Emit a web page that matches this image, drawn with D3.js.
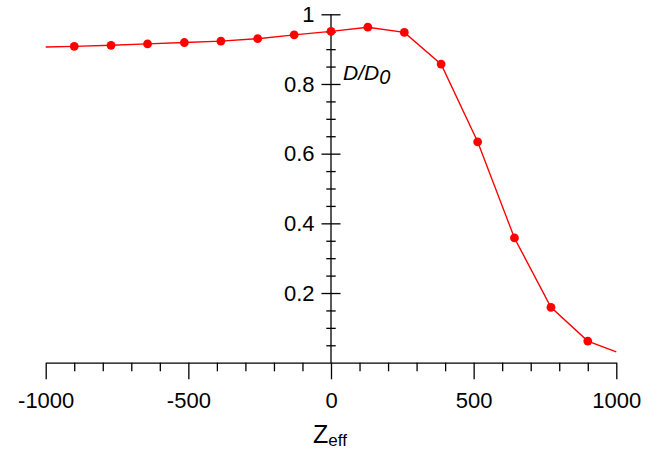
<!DOCTYPE html>
<html>
<head>
<meta charset="utf-8">
<script src="https://cdn.jsdelivr.net/npm/d3@7"></script>
<style>
  body { margin: 0; background: #fff; }
  svg { display: block; font-family: "Liberation Sans", Arial, sans-serif; }
</style>
</head>
<body>
<svg id="chart" width="669" height="452"></svg>
<script>
// sampled points (markers)
var zeff = [-900, -771, -643, -514, -386, -257, -129, 0, 129, 257, 386, 514, 643, 771, 900];
var ratio = [0.908, 0.911, 0.915, 0.919, 0.923, 0.930, 0.941, 0.951, 0.963, 0.948, 0.857, 0.634, 0.358, 0.159, 0.062];
// curve continues to the plot edges without markers
var edgeZ = [-1000, 1000];
var edgeRatio = [0.906, 0.031];

var xMajor = [-1000, -500, 0, 500, 1000];
var xMinor = [-900, -800, -700, -600, -400, -300, -200, -100, 100, 200, 300, 400, 600, 700, 800, 900];
var yMajor = [0.2, 0.4, 0.6, 0.8, 1];
var yMinor = [0.05, 0.1, 0.15, 0.25, 0.3, 0.35, 0.45, 0.5, 0.55, 0.65, 0.7, 0.75, 0.85, 0.9, 0.95];

var svg = d3.select("#chart");

var x = d3.scaleLinear().domain([-1000, 1000]).range([45.7, 616.3]);
var y = d3.scaleLinear().domain([0, 1]).range([362.7, 14.3]);

// x axis: ticks only downward
var xMinorAxis = svg.append("g")
  .attr("transform", "translate(0," + y(0) + ")")
  .call(d3.axisBottom(x).tickValues(xMinor).tickSize(8.6).tickFormat(""));
xMinorAxis.select(".domain").remove();

var xAxis = svg.append("g")
  .attr("transform", "translate(0," + y(0) + ")")
  .call(d3.axisBottom(x).tickValues(xMajor).tickSize(16.6).tickSizeOuter(0).tickPadding(13)
    .tickFormat(function(d) { return String(d); }));
xAxis.selectAll("text").attr("font-size", 22).attr("fill", "#000")
  .attr("font-family", "Liberation Sans, Arial, sans-serif");

// y axis sits at x = 0, ticks cross the line
var yMinorAxis = svg.append("g")
  .attr("transform", "translate(" + x(0) + ",0)")
  .call(d3.axisLeft(y).tickValues(yMinor).tickSize(4.7).tickFormat(""));
yMinorAxis.select(".domain").remove();
yMinorAxis.selectAll(".tick line").attr("x1", 4.7).attr("x2", -4.7);

var yAxis = svg.append("g")
  .attr("transform", "translate(" + x(0) + ",0)")
  .call(d3.axisLeft(y).tickValues(yMajor).tickSize(9.5).tickSizeOuter(0).tickPadding(7)
    .tickFormat(function(d) { return d === 1 ? "1" : d3.format(".1f")(d); }));
yAxis.select(".domain").attr("d", "M0," + y(1) + "V" + y(0));
yAxis.selectAll(".tick line").attr("x1", 9.5).attr("x2", -9.5);
yAxis.selectAll("text").attr("font-size", 22).attr("fill", "#000")
  .attr("font-family", "Liberation Sans, Arial, sans-serif");

svg.selectAll(".domain, .tick line").attr("stroke", "#000").attr("stroke-width", 1.3);

// curve
var pts = [[edgeZ[0], edgeRatio[0]]]
  .concat(zeff.map(function(z, i) { return [z, ratio[i]]; }))
  .concat([[edgeZ[1], edgeRatio[1]]]);

var line = d3.line()
  .x(function(d) { return x(d[0]); })
  .y(function(d) { return y(d[1]); });

svg.append("path")
  .datum(pts)
  .attr("d", line)
  .attr("fill", "none")
  .attr("stroke", "#ff0000")
  .attr("stroke-width", 1.4);

svg.selectAll("circle.pt")
  .data(zeff)
  .enter().append("circle")
  .attr("class", "pt")
  .attr("cx", function(d) { return x(d); })
  .attr("cy", function(d, i) { return y(ratio[i]); })
  .attr("r", 4.4)
  .attr("fill", "#ff0000");

// axis titles
var yTitle = svg.append("text")
  .attr("x", 343)
  .attr("y", 80)
  .attr("font-size", 21)
  .attr("font-style", "italic");
yTitle.append("tspan").text("D/D");
yTitle.append("tspan").attr("font-size", 20).attr("dy", 4).text("0");

var xTitle = svg.append("text")
  .attr("x", 313)
  .attr("y", 443)
  .attr("font-size", 25);
xTitle.append("tspan").text("Z");
xTitle.append("tspan").attr("font-size", 17).attr("dy", 3).text("eff");
</script>
</body>
</html>
